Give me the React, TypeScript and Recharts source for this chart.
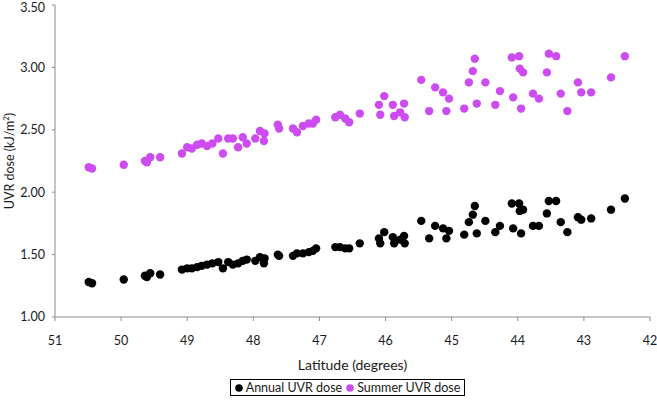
import { ScatterChart, Scatter, XAxis, YAxis, Legend } from "recharts";

// latitude of each site (degrees N), shared by both series
const latitude = [
  50.49, 50.44, 49.96, 49.64, 49.61, 49.56, 49.41, 49.08, 49.0, 48.93, 48.85,
  48.78, 48.7, 48.62, 48.53, 48.46, 48.38, 48.31, 48.23, 48.16, 48.1, 47.97,
  47.9, 47.84, 47.83, 47.63, 47.61, 47.4, 47.34, 47.25, 47.16, 47.1, 47.05,
  46.76, 46.69, 46.61, 46.55, 46.39, 46.1, 46.08, 46.02, 45.89, 45.87, 45.78,
  45.72, 45.71, 45.46, 45.34, 45.25, 45.13, 45.08, 45.04, 44.81, 44.74, 44.68,
  44.65, 44.62, 44.49, 44.34, 44.27, 44.09, 44.07, 43.98, 43.97, 43.95, 43.92,
  43.77, 43.68, 43.56, 43.53, 43.42, 43.35, 43.25, 43.09, 43.04, 42.89, 42.59,
  42.38,
];

const annualDose = [
  1.28, 1.27, 1.3, 1.33, 1.32, 1.35, 1.34, 1.38, 1.39, 1.39, 1.4, 1.41, 1.42,
  1.43, 1.44, 1.39, 1.44, 1.42, 1.43, 1.45, 1.46, 1.45, 1.48, 1.43, 1.47, 1.5,
  1.49, 1.49, 1.51, 1.51, 1.52, 1.53, 1.55, 1.56, 1.56, 1.55, 1.55, 1.59, 1.63,
  1.59, 1.68, 1.64, 1.59, 1.62, 1.65, 1.59, 1.77, 1.63, 1.73, 1.71, 1.63, 1.69,
  1.66, 1.76, 1.82, 1.89, 1.67, 1.77, 1.68, 1.73, 1.91, 1.71, 1.91, 1.85, 1.67,
  1.86, 1.73, 1.73, 1.83, 1.93, 1.93, 1.76, 1.68, 1.8, 1.78, 1.79, 1.86, 1.95,
];

const summerDose = [
  2.2, 2.19, 2.22, 2.25, 2.24, 2.28, 2.28, 2.31, 2.36, 2.35, 2.38, 2.39, 2.37,
  2.39, 2.43, 2.31, 2.43, 2.43, 2.36, 2.44, 2.39, 2.43, 2.49, 2.41, 2.47, 2.54,
  2.51, 2.51, 2.48, 2.53, 2.55, 2.55, 2.58, 2.6, 2.62, 2.59, 2.56, 2.63, 2.7,
  2.62, 2.77, 2.7, 2.61, 2.64, 2.71, 2.6, 2.9, 2.65, 2.84, 2.8, 2.65, 2.75,
  2.67, 2.88, 2.97, 3.07, 2.71, 2.88, 2.7, 2.81, 3.08, 2.76, 3.09, 2.99, 2.67,
  2.96, 2.79, 2.75, 2.96, 3.11, 3.09, 2.79, 2.65, 2.88, 2.8, 2.8, 2.92, 3.09,
];

const xTicks = [51, 50, 49, 48, 47, 46, 45, 44, 43, 42];
const yTicks = [1, 1.5, 2, 2.5, 3, 3.5];

const annualData = latitude.map((lat, i) => ({ lat, dose: annualDose[i] }));
const summerData = latitude.map((lat, i) => ({ lat, dose: summerDose[i] }));

const FONT = "Lato, 'Open Sans', sans-serif";
const TEXT = "#1a1a1a";
const AXIS_COLOR = "#8c8c8c";
const MAGENTA = "#cc4cf2";

const dot = (color: string) => (props: any) => (
  <circle cx={props.cx} cy={props.cy} r={4.2} fill={color} />
);

function YLabel(props: any) {
  const { x, y, height } = props.viewBox;
  const cx = x + 14;
  const cy = y + height / 2;
  return (
    <text
      x={cx}
      y={cy}
      transform={`rotate(-90 ${cx} ${cy})`}
      textAnchor="middle"
      fontSize={12.5}
      fill={TEXT}
      fontFamily={FONT}
    >
      UVR dose (kJ/m
      <tspan dy={-5} fontSize={8}>
        2
      </tspan>
      <tspan dy={5}>)</tspan>
    </text>
  );
}

function LegendBox(props: any) {
  const items = props.payload ?? [];
  return (
    <div style={{ display: "flex", justifyContent: "center" }}>
      <div
        style={{
          border: "1px solid #000",
          padding: "0 4px",
          height: 15,
          display: "flex",
          alignItems: "center",
          gap: 4,
          fontFamily: FONT,
          fontSize: 12.5,
          color: TEXT,
          whiteSpace: "nowrap",
          background: "#fff",
        }}
      >
        {items.map((it: any) => (
          <span key={it.value} style={{ display: "flex", alignItems: "center" }}>
            <svg width={8} height={8} style={{ marginRight: 3 }}>
              <circle cx={4} cy={4} r={3.8} fill={it.color} />
            </svg>
            {it.value}
          </span>
        ))}
      </div>
    </div>
  );
}

export default function App() {
  return (
    <div style={{ position: "absolute", left: 0, top: 0, background: "#fff" }}>
      <ScatterChart
        width={657}
        height={401}
        margin={{ top: 5, right: 7, bottom: 0, left: 0 }}
      >
        <XAxis
          type="number"
          dataKey="lat"
          domain={[42, 51]}
          ticks={xTicks}
          reversed
          height={84}
          stroke={AXIS_COLOR}
          tickSize={4}
          tickMargin={15}
          tick={{ fill: TEXT, fontSize: 12.5, fontFamily: FONT }}
          label={{
            value: "Latitude (degrees)",
            position: "insideBottom",
            offset: 31,
            fill: TEXT,
            fontSize: 14,
            fontFamily: FONT,
          }}
        />
        <YAxis
          type="number"
          dataKey="dose"
          domain={[1, 3.5]}
          ticks={yTicks}
          width={55}
          stroke={AXIS_COLOR}
          tickSize={3}
          tickMargin={7}
          tickFormatter={(v: number) => v.toFixed(2)}
          tick={{ fill: TEXT, fontSize: 12.5, fontFamily: FONT }}
          label={{ content: YLabel }}
        />
        <Legend
          verticalAlign="middle"
          align="center"
          content={LegendBox}
          wrapperStyle={{ top: 379, left: 50, width: 595 }}
        />
        <Scatter
          name="Annual UVR dose"
          data={annualData}
          fill="#000"
          shape={dot("#000")}
          isAnimationActive={false}
        />
        <Scatter
          name="Summer UVR dose"
          data={summerData}
          fill={MAGENTA}
          shape={dot(MAGENTA)}
          isAnimationActive={false}
        />
      </ScatterChart>
    </div>
  );
}
